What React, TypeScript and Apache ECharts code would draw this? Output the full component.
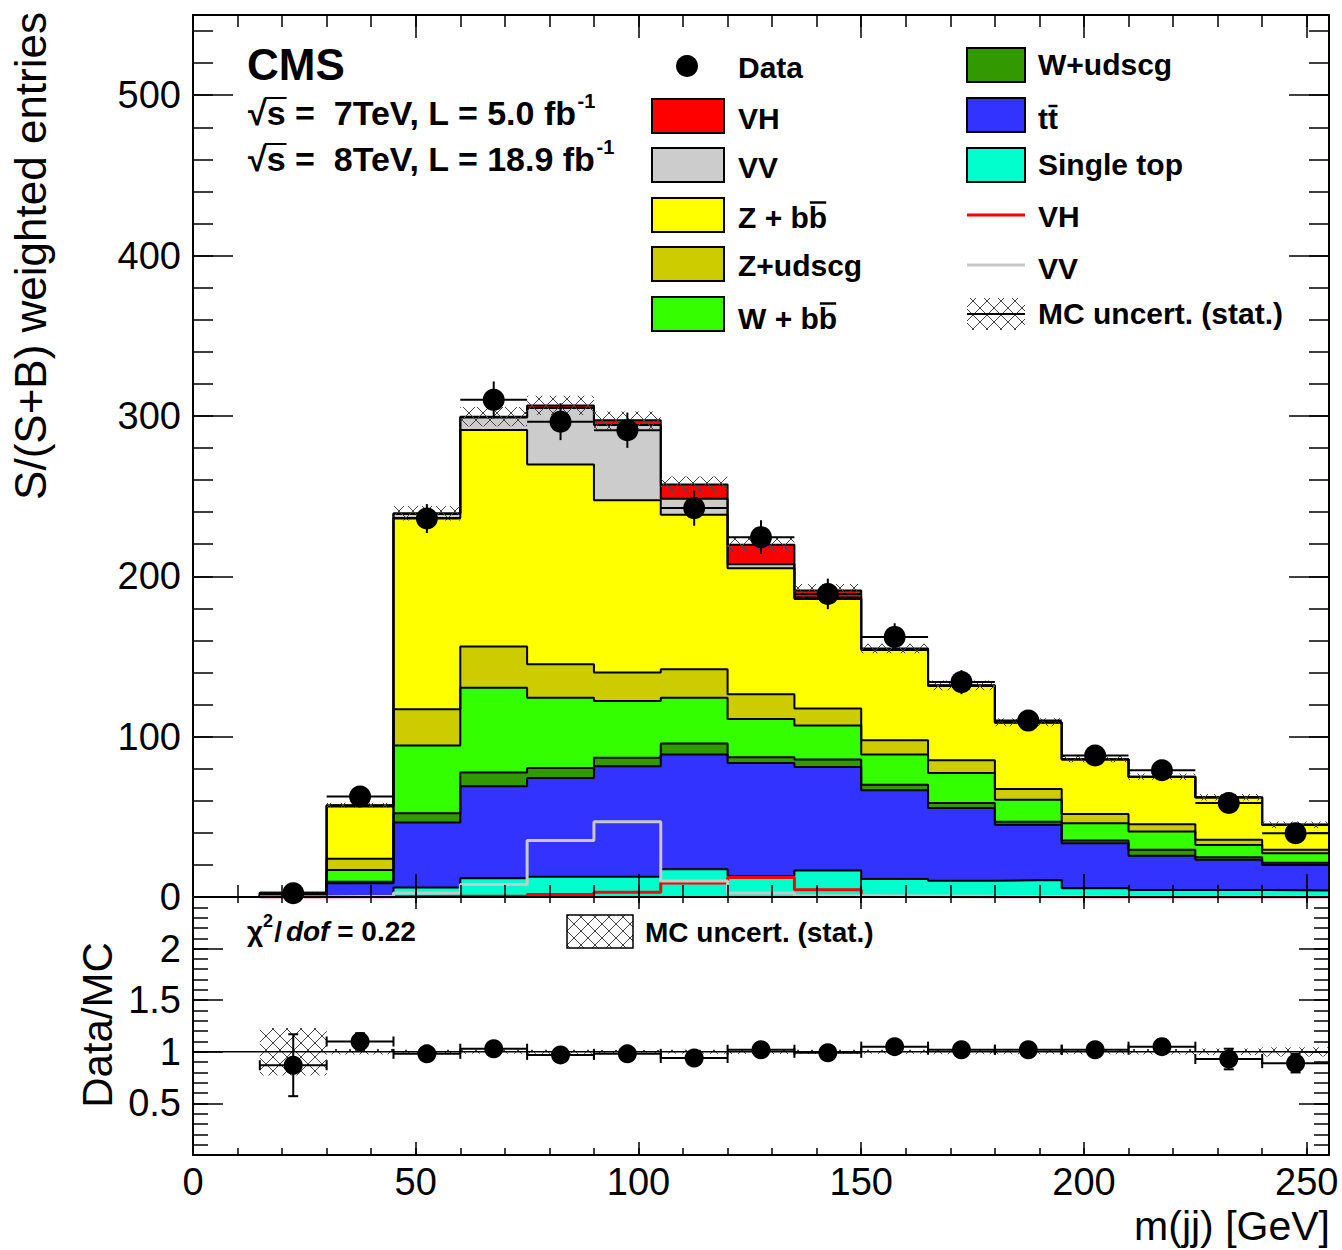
import React, { useEffect, useRef } from 'react';
import * as echarts from 'echarts';

// ---- data ----
const binEdges = [15, 30, 45, 60, 75, 90, 105, 120, 135, 150, 165, 180, 195, 210, 225, 240, 255];
const singleTop = [0.1, 0.5, 6.0, 11.7, 12.7, 12.7, 17.3, 13.1, 16.5, 11.3, 10.2, 10.6, 5.4, 4.4, 4.4, 4.0];
const ttbar = [0.7, 8.0, 40.5, 57.3, 61.5, 68.8, 71.6, 70.5, 64.6, 55.2, 45.3, 34.4, 28.1, 21.3, 18.8, 16.0];
const wudscg = [0.1, 1.0, 5.8, 8.7, 6.3, 5.3, 6.8, 3.6, 4.6, 3.5, 3.1, 2.0, 1.7, 3.7, 1.6, 1.4];
const wbb = [0.3, 7.4, 42.1, 52.8, 43.8, 35.4, 28.6, 23.8, 21.3, 18.9, 18.8, 13.7, 10.8, 11.5, 7.7, 5.9];
const zudscg = [0.3, 6.9, 22.6, 25.7, 20.9, 17.8, 17.7, 15.4, 10.6, 8.9, 7.9, 6.6, 5.7, 4.5, 3.2, 2.1];
const zbb = [1.0, 32.7, 119.3, 135.0, 124.5, 107.4, 96.4, 78.6, 68.3, 56.3, 46.2, 41.3, 34.0, 29.4, 26.4, 15.6];
const vv = [0.1, 0.5, 2.5, 7.8, 35.3, 46.9, 10.0, 2.5, 0.8, 0.6, 0.4, 0.3, 0.2, 0.2, 0.1, 0.1];
const vh = [0.0, 0.2, 0.5, 0.5, 1.5, 3.0, 8.8, 12.2, 4.5, 0.3, 0.1, 0.1, 0.05, 0, 0, 0];
const dataVals = [2.3, 62.7, 236, 310, 296.4, 291.1, 242.5, 224.4, 189, 162.2, 134, 110, 88.2, 79, 58.6, 39.8];
const dataErr = [1.5, 5, 9, 11.5, 11.5, 11, 11, 10.5, 9.5, 8.5, 7.5, 6.5, 6, 5.5, 5, 4];
const mcStatErr = [0.6, 1.5, 4.5, 6, 6, 5.5, 5, 4.5, 4, 3, 3, 2.5, 2, 2, 2, 2];
const ratioVals = [0.87, 1.1, 0.98, 1.03, 0.97, 0.98, 0.94, 1.02, 0.99, 1.05, 1.02, 1.02, 1.02, 1.05, 0.93, 0.89];
const ratioErr = [0.3, 0.08, 0.04, 0.04, 0.04, 0.04, 0.04, 0.05, 0.05, 0.05, 0.05, 0.06, 0.06, 0.07, 0.1, 0.09];
const mainYTicks = [0, 100, 200, 300, 400, 500];
const ratioYTicks = [0.5, 1, 1.5, 2];
const xTickLabels = [0, 50, 100, 150, 200, 250];

const FONT = '"Liberation Sans", Arial, Helvetica, sans-serif';

const components = [
  { name: 'Single top', vals: singleTop, color: '#00ffcc' },
  { name: 'tt', vals: ttbar, color: '#3333ff' },
  { name: 'W+udscg', vals: wudscg, color: '#339900' },
  { name: 'W + bb', vals: wbb, color: '#33ff00' },
  { name: 'Z+udscg', vals: zudscg, color: '#cccc00' },
  { name: 'Z + bb', vals: zbb, color: '#ffff00' },
  { name: 'VV', vals: vv, color: '#cccccc' },
  { name: 'VH', vals: vh, color: '#ff0000' },
];

function makeHatch(): HTMLCanvasElement {
  const s = 14;
  const c = document.createElement('canvas');
  c.width = s;
  c.height = s;
  const ctx = c.getContext('2d')!;
  ctx.strokeStyle = '#444';
  ctx.lineWidth = 1;
  ctx.beginPath();
  ctx.moveTo(0, 0);
  ctx.lineTo(s, s);
  ctx.moveTo(s, 0);
  ctx.lineTo(0, s);
  ctx.stroke();
  return c;
}

function measure(text: string, font: string): number {
  const c = document.createElement('canvas').getContext('2d')!;
  c.font = font;
  return c.measureText(text).width;
}

const steps = (vals: number[]) => {
  const pts: number[][] = [[binEdges[0], 0]];
  vals.forEach((v, i) => {
    pts.push([binEdges[i], v], [binEdges[i + 1], v]);
  });
  pts.push([binEdges[binEdges.length - 1], 0]);
  return pts;
};

function xAx(grid: number, pos: string, interval: number, len: number, label: boolean, line: boolean) {
  return {
    type: 'value', gridIndex: grid, position: pos, min: 0, max: 255, interval, z: 10,
    splitLine: { show: false },
    axisLine: { show: line, onZero: false, lineStyle: { color: '#000', width: 2 } },
    axisTick: { show: true, inside: true, length: len, lineStyle: { color: '#000', width: 1.5 } },
    axisLabel: label
      ? { show: true, color: '#000', fontSize: 38, fontFamily: FONT, margin: 8,
          formatter: (v: number) => (xTickLabels.includes(v) ? String(v) : '') }
      : { show: false },
  };
}

function yAx(grid: number, pos: string, max: number, interval: number, len: number, labels: number[] | null, line: boolean) {
  return {
    type: 'value', gridIndex: grid, position: pos, min: 0, max, interval, z: 10,
    splitLine: { show: false },
    axisLine: { show: line, onZero: false, lineStyle: { color: '#000', width: 2 } },
    axisTick: { show: true, inside: true, length: len, lineStyle: { color: '#000', width: 1.5 } },
    axisLabel: labels
      ? { show: true, color: '#000', fontSize: 38, fontFamily: FONT, margin: 12,
          formatter: (v: number) => {
            const r = Math.round(v * 100) / 100;
            return labels.includes(r) ? String(r) : '';
          } }
      : { show: false },
  };
}

export default function App() {
  const ref = useRef<HTMLDivElement>(null);
  useEffect(() => {
    document.body.style.margin = '0';
    if (!ref.current) return;
    const chart = echarts.init(ref.current, undefined, { renderer: 'svg' });
    const hatch = { image: makeHatch(), repeat: 'repeat' } as any;

    const nb = singleTop.length;
    const cum: number[][] = [];
    components.forEach((c, k) => {
      cum.push(c.vals.map((v, i) => v + (k > 0 ? cum[k - 1][i] : 0)));
    });
    const total = cum[cum.length - 1];
    const centers = binEdges.slice(0, nb).map((e, i) => (e + binEdges[i + 1]) / 2);
    const halfW = binEdges.slice(0, nb).map((e, i) => (binEdges[i + 1] - e) / 2);

    const series: any[] = [];
    for (let k = components.length - 1; k >= 0; k--) {
      series.push({
        type: 'line', name: components[k].name, xAxisIndex: 0, yAxisIndex: 0,
        data: steps(cum[k]), symbol: 'none', silent: true, z: 2,
        lineStyle: { color: '#000', width: 2 },
        areaStyle: { color: components[k].color, opacity: 1 },
      });
    }
    // overlay unstacked signal lines
    series.push({
      type: 'line', name: 'VH line', xAxisIndex: 0, yAxisIndex: 0, data: steps(vh),
      symbol: 'none', silent: true, z: 3, lineStyle: { color: '#ff0000', width: 3 },
    });
    series.push({
      type: 'line', name: 'VV line', xAxisIndex: 0, yAxisIndex: 0, data: steps(vv),
      symbol: 'none', silent: true, z: 3, lineStyle: { color: '#c8c8c8', width: 3 },
    });

    const rectItem = (params: any, api: any) => {
      const p0 = api.coord([api.value(0), api.value(3)]);
      const p1 = api.coord([api.value(1), api.value(2)]);
      return {
        type: 'rect',
        shape: { x: p0[0], y: p0[1], width: p1[0] - p0[0], height: p1[1] - p0[1] },
        style: { fill: hatch, stroke: null },
      };
    };
    series.push({
      type: 'custom', name: 'MC uncert', xAxisIndex: 0, yAxisIndex: 0, z: 4, silent: true,
      renderItem: rectItem,
      data: total.map((t, i) => [binEdges[i], binEdges[i + 1], t - mcStatErr[i], t + mcStatErr[i]]),
    });

    const errItem = (caps: number) => (params: any, api: any) => {
      const x = api.value(0), y = api.value(1), xe = api.value(2), ye = api.value(3);
      const l = api.coord([x - xe, y]);
      const r = api.coord([x + xe, y]);
      const b = api.coord([x, y - ye]);
      const t = api.coord([x, y + ye]);
      const st = { stroke: '#000', lineWidth: 2 };
      const ch: any[] = [
        { type: 'line', shape: { x1: l[0], y1: l[1], x2: r[0], y2: r[1] }, style: st },
        { type: 'line', shape: { x1: b[0], y1: b[1], x2: t[0], y2: t[1] }, style: st },
      ];
      if (caps > 0) {
        ch.push(
          { type: 'line', shape: { x1: l[0], y1: l[1] - caps, x2: l[0], y2: l[1] + caps }, style: st },
          { type: 'line', shape: { x1: r[0], y1: r[1] - caps, x2: r[0], y2: r[1] + caps }, style: st },
          { type: 'line', shape: { x1: b[0] - caps, y1: b[1], x2: b[0] + caps, y2: b[1] }, style: st },
          { type: 'line', shape: { x1: t[0] - caps, y1: t[1], x2: t[0] + caps, y2: t[1] }, style: st },
        );
      }
      return { type: 'group', children: ch };
    };
    series.push({
      type: 'custom', name: 'Data err', xAxisIndex: 0, yAxisIndex: 0, z: 5, silent: true,
      renderItem: errItem(0),
      data: dataVals.map((v, i) => [centers[i], v, halfW[i], dataErr[i]]),
    });
    series.push({
      type: 'scatter', name: 'Data', xAxisIndex: 0, yAxisIndex: 0, z: 6, silent: true,
      symbol: 'circle', symbolSize: 22, itemStyle: { color: '#000', opacity: 1 },
      data: dataVals.map((v, i) => [centers[i], v]),
    });

    // ratio panel
    series.push({
      type: 'custom', name: 'Ratio MC uncert', xAxisIndex: 4, yAxisIndex: 4, z: 3, silent: true,
      renderItem: rectItem,
      data: total.map((t, i) => [binEdges[i], binEdges[i + 1], 1 - mcStatErr[i] / t, 1 + mcStatErr[i] / t]),
    });
    series.push({
      type: 'line', name: 'unity', xAxisIndex: 4, yAxisIndex: 4, z: 4, silent: true, symbol: 'none',
      data: [[0, 1], [255, 1]], lineStyle: { color: '#000', width: 1.5 },
    });
    series.push({
      type: 'custom', name: 'Ratio err', xAxisIndex: 4, yAxisIndex: 4, z: 5, silent: true,
      renderItem: errItem(5),
      data: ratioVals.map((v, i) => [centers[i], v, halfW[i], ratioErr[i]]),
    });
    series.push({
      type: 'scatter', name: 'Ratio', xAxisIndex: 4, yAxisIndex: 4, z: 6, silent: true,
      symbol: 'circle', symbolSize: 19, itemStyle: { color: '#000', opacity: 1 },
      data: ratioVals.map((v, i) => [centers[i], v]),
    });

    // ---- legend & texts ----
    const lf = (s: number, extra = '') => `bold ${extra}${s}px "Liberation Sans"`;
    const txt = (x: number, y: number, text: string, size: number, opts: any = {}) => ({
      type: 'text', x, y, z: 20, silent: true,
      style: {
        text, fill: '#000', fontSize: size, fontWeight: opts.weight ?? 'bold', fontStyle: opts.style ?? 'normal',
        fontFamily: FONT, textAlign: opts.align ?? 'left', textVerticalAlign: 'middle',
        align: opts.align ?? 'left', verticalAlign: 'middle',
      },
      rotation: opts.rotation ?? 0,
    });
    const ln = (x1: number, y1: number, x2: number, y2: number, color = '#000', w = 2) => ({
      type: 'line', z: 20, silent: true, shape: { x1, y1, x2, y2 }, style: { stroke: color, lineWidth: w },
    });
    const box = (x: number, y: number, w: number, h: number, fill: any, stroke: any = '#000') => ({
      type: 'rect', z: 20, silent: true, shape: { x, y, width: w, height: h },
      style: { fill, stroke, lineWidth: 2 },
    });

    const g: any[] = [];
    // column 1
    const c1x = 652, c1w = 72, t1x = 738;
    g.push({ type: 'circle', z: 20, silent: true, shape: { cx: 687, cy: 66, r: 11 }, style: { fill: '#000' } });
    g.push(txt(t1x, 67, 'Data', 30));
    const col1 = [
      { k: 7, by: 99, ty: 118, label: 'VH' },
      { k: 6, by: 148, ty: 167, label: 'VV' },
      { k: 5, by: 198, ty: 217, label: 'Z + bb', bar: 'Z + b' },
      { k: 4, by: 247, ty: 265, label: 'Z+udscg' },
      { k: 3, by: 297, ty: 318, label: 'W + bb', bar: 'W + b' },
    ];
    col1.forEach((e) => {
      g.push(box(c1x, e.by, c1w, 34, components[e.k].color));
      g.push(txt(t1x, e.ty, e.label, 30));
      if (e.bar) {
        const w0 = measure(e.bar, lf(30));
        const w1 = measure(e.label, lf(30));
        g.push(ln(t1x + w0 + 1, e.ty - 14.5, t1x + w1 - 1, e.ty - 14.5, '#000', 2.5));
      }
    });
    // column 2
    const c2x = 967, c2w = 58, t2x = 1038;
    const col2 = [
      { k: 2, by: 48, ty: 64, label: 'W+udscg' },
      { k: 1, by: 98, ty: 118, label: 'tt', bar: 't' },
      { k: 0, by: 148, ty: 164, label: 'Single top' },
    ];
    col2.forEach((e) => {
      g.push(box(c2x, e.by, c2w, 34, components[e.k].color));
      g.push(txt(t2x, e.ty, e.label, 30));
      if (e.bar) {
        const w0 = measure(e.bar, lf(30));
        const w1 = measure(e.label, lf(30));
        g.push(ln(t2x + w0 + 0.5, e.ty - 12, t2x + w1 - 0.5, e.ty - 12, '#000', 2.5));
      }
    });
    g.push(ln(c2x, 215, c2x + c2w, 215, '#ff0000', 3));
    g.push(txt(t2x, 216, 'VH', 30));
    g.push(ln(c2x, 265, c2x + c2w, 265, '#c8c8c8', 3));
    g.push(txt(t2x, 268, 'VV', 30));
    g.push(box(c2x, 298, c2w, 32, hatch, null));
    g.push(ln(c2x, 314, c2x + c2w, 314, '#000', 2));
    g.push(txt(t2x, 313, 'MC uncert. (stat.)', 30));

    // CMS & lumi
    g.push(txt(247, 64, 'CMS', 44));
    const lumi = [
      { y: 113, s: '√s =  7TeV, L = 5.0 fb' },
      { y: 159, s: '√s =  8TeV, L = 18.9 fb' },
    ];
    lumi.forEach((l) => {
      const lx = 248;
      const fs = 34;
      g.push(txt(lx, l.y, l.s, fs));
      const wr = measure('√', lf(fs));
      const ws = measure('√s', lf(fs));
      const wa = measure(l.s, lf(fs));
      g.push(ln(lx + wr - 2, l.y - 15, lx + ws + 1, l.y - 15, '#000', 2));
      g.push(txt(lx + wa + 1, l.y - 12, '-1', 20));
    });

    // ratio panel texts
    let cx = 247;
    const cy = 931;
    g.push(txt(cx, cy, 'χ', 28));
    cx += measure('χ', lf(28));
    g.push(txt(cx, cy - 10, '2', 18));
    cx += measure('2', lf(18)) + 1;
    g.push(txt(cx, cy, '/', 28));
    cx += measure('/', lf(28)) + 4;
    g.push(txt(cx, cy, 'dof', 28, { style: 'italic' }));
    cx += measure('dof', lf(28, 'italic '));
    g.push(txt(cx, cy, ' = 0.22', 28));
    g.push({ type: 'rect', z: 20, silent: true, shape: { x: 567, y: 915, width: 66, height: 33 },
      style: { fill: hatch, stroke: '#000', lineWidth: 1.5 } });
    g.push(txt(645, 932, 'MC uncert. (stat.)', 28));

    // axis titles
    g.push(txt(30, 12, 'S/(S+B) weighted entries', 44, { weight: 'normal', align: 'right', rotation: Math.PI / 2 }));
    g.push(txt(97, 1025, 'Data/MC', 42, { weight: 'normal', align: 'center', rotation: Math.PI / 2 }));
    g.push(txt(1330, 1226, 'm(jj) [GeV]', 41, { weight: 'normal', align: 'right' }));

    chart.setOption({
      animation: false,
      backgroundColor: '#ffffff',
      textStyle: { fontFamily: FONT },
      grid: [
        { left: 193, top: 15, width: 1136, height: 882, containLabel: false },
        { left: 193, top: 897, width: 1136, height: 258, containLabel: false },
      ],
      xAxis: [
        xAx(0, 'bottom', 50, 23, false, true),
        xAx(0, 'bottom', 10, 12, false, false),
        xAx(0, 'top', 50, 23, false, true),
        xAx(0, 'top', 10, 12, false, false),
        xAx(1, 'bottom', 50, 13, true, true),
        xAx(1, 'bottom', 10, 7, false, false),
        xAx(1, 'top', 50, 12, false, true),
        xAx(1, 'top', 10, 6, false, false),
      ],
      yAxis: [
        yAx(0, 'left', 550, 100, 40, mainYTicks, true),
        yAx(0, 'left', 550, 20, 20, null, false),
        yAx(0, 'right', 550, 100, 40, null, true),
        yAx(0, 'right', 550, 20, 20, null, false),
        yAx(1, 'left', 2.5, 0.5, 30, ratioYTicks, true),
        yAx(1, 'left', 2.5, 0.1, 15, null, false),
        yAx(1, 'right', 2.5, 0.5, 30, null, true),
        yAx(1, 'right', 2.5, 0.1, 15, null, false),
      ],
      series,
      graphic: g,
    });
    return () => chart.dispose();
  }, []);
  return <div ref={ref} style={{ width: 1342, height: 1250 }} />;
}
